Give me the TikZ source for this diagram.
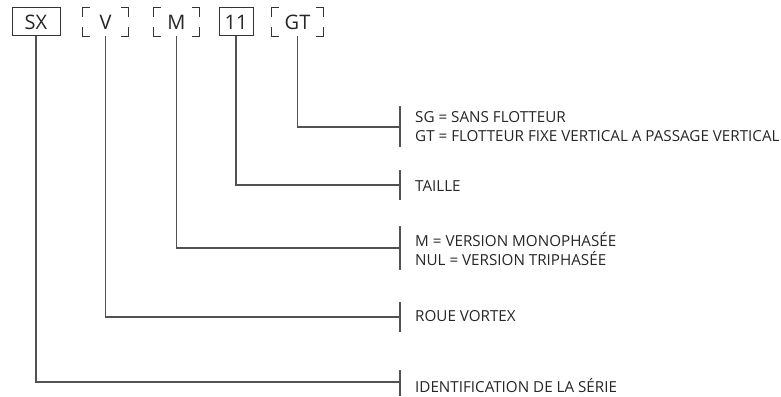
\documentclass[tikz,border=0pt]{standalone}
\usepackage{fontspec}
\setmainfont{Open Sans}
\begin{document}
\begin{tikzpicture}[x=1pt,y=-1pt,
  line/.style={draw=black!68, line width=1.2pt},
  codebox/.style={minimum height=28pt, inner sep=0pt, font=\fontsize{20}{20}\selectfont, text=black!85},
  solidbox/.style={codebox, draw=black!80, line width=1pt},
  desc/.style={anchor=west, inner sep=0pt, font=\fontsize{15.2}{19}\selectfont, text=black!85, align=left},
  corners/.style={draw=black!80, line width=1pt}
]
\useasboundingbox (0,0) rectangle (781,396);
% code boxes
\node[solidbox, minimum width=48pt] (sx) at (36,22) {SX};
\node[codebox, minimum width=45pt] (v) at (105.5,22) {V};
\node[codebox, minimum width=45pt] (m) at (176.5,22) {M};
\node[solidbox, minimum width=34pt] (n11) at (236,22) {11};
\node[codebox, minimum width=51pt] (gt) at (297.5,22) {GT};
% corner marks for the variable boxes
\foreach \b in {v,m,gt}{
  \draw[corners] ([xshift=7pt]\b.north west) -- (\b.north west) -- ([yshift=-9pt]\b.north west);
  \draw[corners] ([xshift=-7pt]\b.north east) -- (\b.north east) -- ([yshift=-9pt]\b.north east);
  \draw[corners] ([xshift=7pt]\b.south west) -- (\b.south west) -- ([yshift=9pt]\b.south west);
  \draw[corners] ([xshift=-7pt]\b.south east) -- (\b.south east) -- ([yshift=9pt]\b.south east);
}
% bars
\coordinate (b1t) at (400,106); \coordinate (b1b) at (400,147); \coordinate (j1) at (400,127);
\coordinate (b2t) at (400,170); \coordinate (b2b) at (400,200); \coordinate (j2) at (400,185);
\coordinate (b3t) at (400,226); \coordinate (b3b) at (400,270); \coordinate (j3) at (400,248);
\coordinate (b4t) at (400,302); \coordinate (b4b) at (400,332); \coordinate (j4) at (400,317);
\coordinate (b5t) at (400,370); \coordinate (b5b) at (400,396); \coordinate (j5) at (400,382);
\foreach \i in {1,...,5}{ \draw[line] (b\i t) -- (b\i b); }
% connectors
\draw[line] (gt.south) |- (j1);
\draw[line] (n11.south) |- (j2);
\draw[line] (m.south) |- (j3);
\draw[line] (v.south) |- (j4);
\draw[line] (sx.south) |- (j5);
% descriptions
\node[desc] (d1) at (415,127) {SG = SANS FLOTTEUR\\GT = FLOTTEUR FIXE VERTICAL A PASSAGE VERTICAL};
\node[desc] (d2) at (415,186) {TAILLE};
\node[desc] (d3) at (415,248.5) {M = VERSION MONOPHASÉE\\NUL = VERSION TRIPHASÉE};
\node[desc] (d4) at (415,316) {ROUE VORTEX};
\node[desc] (d5) at (415,385) {IDENTIFICATION DE LA SÉRIE};
\end{tikzpicture}
\end{document}
